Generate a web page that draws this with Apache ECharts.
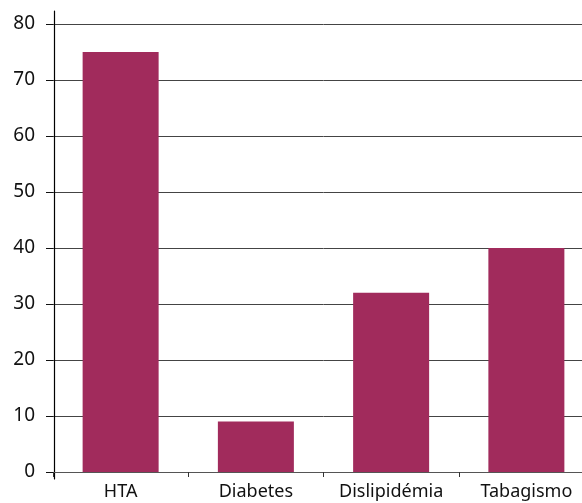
<!DOCTYPE html>
<html>
<head>
<meta charset="utf-8">
<script src="https://cdn.jsdelivr.net/npm/echarts@6/dist/echarts.min.js"></script>
<style>
  html, body { margin: 0; padding: 0; background: #fff; overflow: hidden; }
  #chart { width: 596px; height: 503px; }
</style>
</head>
<body>
<div id="chart"></div>
<script>
// Risk factors and their values
const categories = ['HTA', 'Diabetes', 'Dislipidémia', 'Tabagismo'];
const values = [75, 9, 32, 40];
const yTicks = [0, 10, 20, 30, 40, 50, 60, 70, 80];

const barColor = '#A12B5C';
const labelFont = '"Noto Sans", "Open Sans", sans-serif';

const chart = echarts.init(document.getElementById('chart'), null, { renderer: 'canvas' });

chart.setOption({
  animation: false,
  backgroundColor: '#fff',
  grid: [
    // main plotting area (the last category runs a little past the page edge)
    { left: 53, top: 24, right: 2, height: 448, containLabel: false },
    // frame that carries the slightly longer vertical axis line
    { left: 54, top: 11, right: 2, height: 468, containLabel: false }
  ],
  xAxis: [
    {
      type: 'category',
      gridIndex: 0,
      data: categories,
      boundaryGap: true,
      axisLine: { show: true, lineStyle: { color: '#555', width: 1 } },
      axisTick: { show: true, interval: 0, length: 5, lineStyle: { color: '#333', width: 1 } },
      axisLabel: { interval: 0, color: '#111', fontSize: 18, fontFamily: labelFont, margin: 11 }
    },
    {
      type: 'category',
      gridIndex: 1,
      data: categories,
      show: false
    }
  ],
  yAxis: [
    {
      type: 'value',
      gridIndex: 0,
      min: yTicks[0],
      max: yTicks[yTicks.length - 1],
      interval: 10,
      axisLine: { show: false },
      axisTick: { show: true, length: 7, lineStyle: { color: '#111', width: 1 } },
      axisLabel: { color: '#111', fontSize: 19, fontFamily: labelFont, margin: 18 },
      splitLine: { show: true, lineStyle: { color: '#444', width: 1 } }
    },
    {
      type: 'value',
      gridIndex: 1,
      min: 0,
      max: 1,
      axisLine: { show: true, onZero: false, lineStyle: { color: '#000', width: 1.2 } },
      axisTick: { show: false },
      axisLabel: { show: false },
      splitLine: { show: false }
    }
  ],
  series: [
    {
      type: 'bar',
      xAxisIndex: 0,
      yAxisIndex: 0,
      data: values,
      barWidth: 76,
      itemStyle: { color: barColor },
      z: 3
    }
  ]
});
</script>
</body>
</html>
